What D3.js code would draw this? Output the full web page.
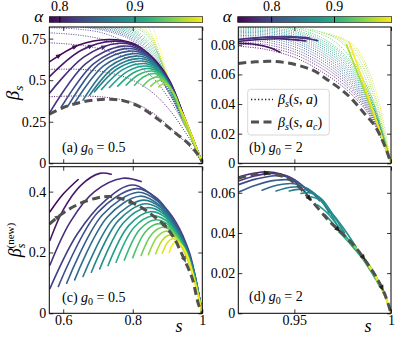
<!DOCTYPE html>
<html><head><meta charset="utf-8">
<script src="https://cdn.jsdelivr.net/npm/d3@7"></script>
<style>body{margin:0;background:#fff}svg{display:block}
svg text{font-family:"Liberation Serif","DejaVu Serif",serif !important;}</style>
</head><body><svg id="chart" width="396" height="337"></svg>
<script>
// ---------- DATA ----------
const cbRangeA = [0.786, 0.99];
const cbRangeB = [0.746, 0.991];
const cbTicks = [0.8, 0.9];
const cbTickLabels = ["0.8", "0.9"];

const xTicksA = [0.6, 0.8, 1.0];
const xTickLabelsA = ["0.6", "0.8", "1"];
const xTicksB = [0.95, 1.0];
const xTickLabelsB = ["0.95", "1"];
const yTicksA = [0, 0.25, 0.5, 0.75];
const yTickLabelsA = ["0", "0.25", "0.5", "0.75"];
const yTicksB = [0, 0.02, 0.04, 0.06, 0.08];
const yTickLabelsB = ["0", "0.02", "0.04", "0.06", "0.08"];
const yTicksC = [0, 0.2, 0.4];
const yTickLabelsC = ["0", "0.2", "0.4"];
const yTicksD = [0, 0.02, 0.04, 0.06];
const yTickLabelsD = ["0", "0.02", "0.04", "0.06"];

// ---- panel (a): g0 = 0.5, beta_s ----
const dashedA = [[0.56,0.295],[0.60,0.335],[0.65,0.367],[0.70,0.383],[0.733,0.385],[0.77,0.378],[0.82,0.34],[0.876,0.26],[0.924,0.18],[0.962,0.115],[0.985,0.06],[1.0,0.01]];

const dottedAlphaA = [0.786,0.795,0.805,0.815,0.825,0.835,0.847,0.859,0.871,0.883,0.895,0.907,0.919,0.931,0.943,0.955,0.967,0.979,0.990];
const dottedA = [
 [[0.56,0.400],[0.65,0.405],[0.73,0.395],[0.80,0.365],[0.86,0.300],[0.91,0.210],[0.95,0.130],[0.98,0.060],[1.0,0.0]],
 [[0.56,0.565],[0.65,0.565],[0.73,0.545],[0.80,0.500],[0.86,0.420],[0.91,0.310],[0.95,0.190],[0.98,0.090],[1.0,0.0]],
 [[0.56,0.725],[0.65,0.710],[0.73,0.675],[0.80,0.610],[0.86,0.510],[0.91,0.370],[0.95,0.225],[0.98,0.100],[1.0,0.0]],
 [[0.56,0.785],[0.65,0.770],[0.73,0.735],[0.80,0.665],[0.86,0.555],[0.91,0.400],[0.95,0.230],[0.98,0.100],[1.0,0.0]],
 [[0.56,0.815],[0.64,0.808],[0.72,0.780],[0.80,0.700],[0.86,0.570],[0.91,0.410],[0.95,0.232],[0.98,0.100],[1.0,0.0]],
 [[0.650,0.82],[0.725,0.795],[0.80,0.735],[0.86,0.580],[0.905,0.420],[0.95,0.230],[0.98,0.100],[1.0,0.0]],
 [[0.668,0.82],[0.734,0.798],[0.80,0.745],[0.86,0.595],[0.905,0.428],[0.95,0.234],[0.98,0.102],[1.0,0.0]],
 [[0.686,0.82],[0.743,0.801],[0.80,0.755],[0.86,0.610],[0.905,0.436],[0.95,0.238],[0.98,0.103],[1.0,0.0]],
 [[0.704,0.82],[0.752,0.804],[0.80,0.765],[0.86,0.625],[0.905,0.444],[0.95,0.242],[0.98,0.104],[1.0,0.0]],
 [[0.721,0.82],[0.7605,0.807],[0.80,0.775],[0.86,0.640],[0.905,0.452],[0.95,0.246],[0.98,0.105],[1.0,0.0]],
 [[0.738,0.82],[0.769,0.810],[0.80,0.785],[0.86,0.655],[0.905,0.460],[0.95,0.250],[0.98,0.106],[1.0,0.0]],
 [[0.754,0.82],[0.777,0.813],[0.80,0.795],[0.86,0.670],[0.905,0.468],[0.95,0.254],[0.98,0.107],[1.0,0.0]],
 [[0.770,0.82],[0.785,0.815],[0.80,0.803],[0.86,0.685],[0.905,0.474],[0.95,0.257],[0.98,0.108],[1.0,0.0]],
 [[0.786,0.82],[0.80,0.812],[0.86,0.700],[0.905,0.480],[0.95,0.260],[0.98,0.109],[1.0,0.0]],
 [[0.801,0.82],[0.83,0.790],[0.86,0.712],[0.905,0.485],[0.95,0.262],[0.98,0.110],[1.0,0.0]],
 [[0.816,0.82],[0.84,0.785],[0.86,0.725],[0.905,0.490],[0.95,0.264],[0.98,0.110],[1.0,0.0]],
 [[0.831,0.82],[0.86,0.740],[0.905,0.494],[0.95,0.266],[0.98,0.111],[1.0,0.0]],
 [[0.845,0.82],[0.86,0.750],[0.905,0.497],[0.95,0.268],[0.98,0.111],[1.0,0.0]],
 [[0.858,0.82],[0.88,0.680],[0.905,0.500],[0.95,0.270],[0.98,0.112],[1.0,0.0]]
];

const solidAlphaA = [0.790,0.800,0.810,0.820,0.830,0.840,0.850,0.860,0.870,0.880,0.890,0.900,0.910,0.920,0.930,0.940,0.950,0.960,0.985];
const solidA = [
 [[0.560,0.610],[0.645,0.712],[0.730,0.745],[0.800,0.722],[0.860,0.630],[0.905,0.500],[0.950,0.270],[0.980,0.110],[1.0,0.0]],
 [[0.560,0.520],[0.652,0.680],[0.745,0.735],[0.810,0.708],[0.865,0.612],[0.905,0.497],[0.950,0.268],[0.980,0.110],[1.0,0.0]],
 [[0.560,0.420],[0.660,0.640],[0.760,0.722],[0.818,0.695],[0.868,0.598],[0.905,0.493],[0.950,0.266],[0.980,0.109],[1.0,0.0]],
 [[0.560,0.300],[0.665,0.600],[0.770,0.705],[0.825,0.680],[0.872,0.583],[0.905,0.489],[0.950,0.265],[0.980,0.109],[1.0,0.0]],
 [[0.595,0.340],[0.688,0.600],[0.780,0.690],[0.832,0.665],[0.875,0.575],[0.905,0.485],[0.950,0.263],[0.980,0.108],[1.0,0.0]],
 [[0.614,0.345],[0.702,0.597],[0.790,0.675],[0.838,0.652],[0.878,0.565],[0.905,0.481],[0.950,0.262],[0.980,0.108],[1.0,0.0]],
 [[0.633,0.364],[0.716,0.586],[0.800,0.660],[0.845,0.638],[0.880,0.557],[0.905,0.477],[0.950,0.260],[0.980,0.107],[1.0,0.0]],
 [[0.657,0.380],[0.732,0.580],[0.808,0.645],[0.850,0.623],[0.883,0.547],[0.905,0.473],[0.950,0.258],[0.980,0.107],[1.0,0.0]],
 [[0.676,0.410],[0.745,0.575],[0.815,0.630],[0.855,0.608],[0.885,0.537],[0.905,0.469],[0.950,0.256],[0.980,0.106],[1.0,0.0]],
 [[0.690,0.430],[0.756,0.569],[0.822,0.615],[0.860,0.593],[0.888,0.527],[0.905,0.465],[0.950,0.254],[0.980,0.106],[1.0,0.0]],
 [[0.710,0.444],[0.770,0.562],[0.830,0.600],[0.865,0.578],[0.890,0.517],[0.905,0.461],[0.950,0.252],[0.980,0.105],[1.0,0.0]],
 [[0.733,0.456],[0.785,0.553],[0.838,0.585],[0.870,0.562],[0.892,0.507],[0.907,0.455],[0.950,0.250],[0.980,0.105],[1.0,0.0]],
 [[0.757,0.464],[0.801,0.543],[0.846,0.570],[0.875,0.548],[0.895,0.497],[0.910,0.448],[0.950,0.248],[0.980,0.104],[1.0,0.0]],
 [[0.781,0.470],[0.818,0.534],[0.855,0.555],[0.880,0.535],[0.898,0.488],[0.912,0.442],[0.950,0.246],[0.980,0.104],[1.0,0.0]],
 [[0.805,0.470],[0.833,0.522],[0.862,0.540],[0.885,0.520],[0.900,0.478],[0.915,0.432],[0.950,0.244],[0.980,0.103],[1.0,0.0]],
 [[0.829,0.464],[0.850,0.505],[0.870,0.520],[0.890,0.502],[0.903,0.467],[0.918,0.420],[0.950,0.242],[0.980,0.103],[1.0,0.0]],
 [[0.852,0.464],[0.866,0.490],[0.880,0.500],[0.895,0.485],[0.907,0.455],[0.920,0.410],[0.950,0.240],[0.980,0.102],[1.0,0.0]],
 [[0.875,0.460],[0.884,0.475],[0.892,0.481],[0.902,0.468],[0.912,0.440],[0.925,0.395],[0.950,0.238],[0.980,0.102],[1.0,0.0]],
 [[0.935,0.335],[0.950,0.270],[0.980,0.112],[1.0,0.0]]
];
const markersA = [[0,0.05],[0,0.13],[1,0.22],[2,0.30]];

// ---- panel (b): g0 = 2, beta_s ----
const dashedB = [[0.921,0.0674],[0.93,0.0685],[0.94,0.0687],[0.95,0.0668],[0.96,0.0625],[0.9675,0.056],[0.975,0.049],[0.98,0.043],[0.986,0.034],[0.992,0.0245],[0.997,0.011],[1.0,0.0]];

const dottedAlphaB = [0.750,0.762,0.774,0.786,0.798,0.810,0.822,0.834,0.846,0.858,0.870,0.882,0.894,0.906,0.918,0.930,0.942,0.954,0.966,0.978];
const dottedB = [
 [[0.921,0.0790],[0.934,0.0772],[0.951,0.0710],[0.9675,0.0590],[0.980,0.0460],[0.990,0.0300],[1.0,0.0]],
 [[0.921,0.0805],[0.934,0.0790],[0.951,0.0730],[0.9675,0.0612],[0.980,0.0478],[0.990,0.0312],[1.0,0.0]],
 [[0.921,0.0818],[0.934,0.0805],[0.951,0.0748],[0.9675,0.0632],[0.980,0.0495],[0.990,0.0322],[1.0,0.0]],
 [[0.921,0.0830],[0.934,0.0820],[0.951,0.0765],[0.9675,0.0650],[0.980,0.0510],[0.990,0.0332],[1.0,0.0]],
 [[0.921,0.0842],[0.934,0.0834],[0.951,0.0782],[0.9675,0.0668],[0.980,0.0525],[0.990,0.0342],[1.0,0.0]],
 [[0.921,0.0852],[0.934,0.0847],[0.951,0.0798],[0.9675,0.0685],[0.980,0.0540],[0.990,0.0352],[1.0,0.0]],
 [[0.921,0.0862],[0.934,0.0858],[0.951,0.0812],[0.9675,0.0702],[0.980,0.0555],[0.990,0.0362],[1.0,0.0]],
 [[0.921,0.0872],[0.934,0.0869],[0.951,0.0826],[0.9675,0.0718],[0.980,0.0570],[0.990,0.0372],[1.0,0.0]],
 [[0.921,0.0881],[0.934,0.0879],[0.951,0.0840],[0.9675,0.0734],[0.980,0.0585],[0.990,0.0382],[1.0,0.0]],
 [[0.921,0.0890],[0.934,0.0889],[0.951,0.0852],[0.9675,0.0750],[0.980,0.0600],[0.990,0.0392],[1.0,0.0]],
 [[0.921,0.0898],[0.934,0.0898],[0.951,0.0864],[0.9675,0.0765],[0.980,0.0615],[0.990,0.0400],[1.0,0.0]],
 [[0.921,0.0906],[0.934,0.0907],[0.951,0.0876],[0.9675,0.0780],[0.980,0.0630],[0.990,0.0408],[1.0,0.0]],
 [[0.921,0.0914],[0.934,0.0916],[0.951,0.0887],[0.9675,0.0794],[0.980,0.0645],[0.990,0.0416],[1.0,0.0]],
 [[0.928,0.0925],[0.940,0.0922],[0.951,0.0898],[0.9675,0.0808],[0.980,0.0660],[0.990,0.0424],[1.0,0.0]],
 [[0.945,0.0922],[0.955,0.0895],[0.9675,0.0822],[0.980,0.0675],[0.990,0.0432],[1.0,0.0]],
 [[0.952,0.0915],[0.960,0.0890],[0.970,0.0830],[0.980,0.0695],[0.990,0.0445],[1.0,0.0]],
 [[0.958,0.0905],[0.965,0.0880],[0.973,0.0830],[0.982,0.0700],[0.990,0.0460],[1.0,0.0]],
 [[0.963,0.0890],[0.969,0.0865],[0.975,0.0825],[0.983,0.0715],[0.991,0.0460],[1.0,0.0]],
 [[0.968,0.0875],[0.973,0.0850],[0.978,0.0810],[0.985,0.0700],[0.992,0.0450],[1.0,0.0]],
 [[0.973,0.0855],[0.977,0.0830],[0.982,0.0780],[0.988,0.0640],[0.994,0.0400],[1.0,0.0]]
];
const solidAlphaB = [0.755,0.765,0.775,0.790,0.960,0.990];
const solidB = [
 [[0.921,0.0810],[0.930,0.0802],[0.937,0.0782],[0.9426,0.0750]],
 [[0.921,0.0822],[0.932,0.0836],[0.944,0.0840],[0.956,0.0826]],
 [[0.921,0.0836],[0.932,0.0848],[0.944,0.0852],[0.956,0.0842],[0.962,0.0828]],
 [[0.926,0.0840],[0.936,0.0852],[0.948,0.0855],[0.958,0.0846]],
 [[0.9770,0.0800],[0.985,0.0530],[0.992,0.0290],[1.0,0.0]],
 [[0.9783,0.0820],[0.985,0.0575],[0.992,0.0305],[1.0,0.0]]
];

// ---- panel (c): g0 = 0.5, beta_s^(new) ----
const dashedC = [[0.56,0.293],[0.60,0.33],[0.65,0.362],[0.70,0.38],[0.733,0.384],[0.78,0.372],[0.829,0.345],[0.865,0.315],[0.895,0.285],[0.92,0.245],[0.938,0.203],[0.955,0.16],[0.971,0.115],[0.989,0.03],[1.0,0.0]];
const solidAlphaC = [0.790,0.801,0.812,0.823,0.834,0.846,0.857,0.868,0.879,0.890,0.901,0.912,0.923,0.934,0.945,0.957,0.968,0.979,0.990];
const solidC = [
 [[0.562,0.334],[0.600,0.392],[0.643,0.440]],
 [[0.562,0.240],[0.600,0.340],[0.650,0.420],[0.705,0.460],[0.738,0.457]],
 [[0.562,0.159],[0.620,0.300],[0.690,0.400],[0.771,0.444],[0.824,0.433]],
 [[0.562,0.082],[0.640,0.260],[0.720,0.370],[0.800,0.422],[0.876,0.367],[0.924,0.300],[0.962,0.203],[0.980,0.120],[1.0,0.0]],
 [[0.586,0.088],[0.698,0.330],[0.810,0.410],[0.870,0.378],[0.910,0.318],[0.950,0.233],[0.975,0.143],[1.0,0.0]],
 [[0.610,0.099],[0.7125,0.323],[0.815,0.398],[0.872,0.368],[0.912,0.310],[0.950,0.230],[0.975,0.141],[1.0,0.0]],
 [[0.633,0.110],[0.7265,0.316],[0.820,0.385],[0.875,0.357],[0.913,0.303],[0.950,0.227],[0.975,0.139],[1.0,0.0]],
 [[0.657,0.121],[0.7435,0.309],[0.830,0.372],[0.880,0.348],[0.914,0.297],[0.950,0.224],[0.975,0.137],[1.0,0.0]],
 [[0.681,0.135],[0.758,0.304],[0.835,0.360],[0.884,0.338],[0.915,0.291],[0.950,0.221],[0.975,0.135],[1.0,0.0]],
 [[0.705,0.146],[0.7725,0.297],[0.840,0.347],[0.888,0.328],[0.916,0.285],[0.950,0.218],[0.975,0.133],[1.0,0.0]],
 [[0.729,0.157],[0.7895,0.290],[0.850,0.334],[0.892,0.317],[0.918,0.279],[0.950,0.215],[0.975,0.131],[1.0,0.0]],
 [[0.752,0.168],[0.8035,0.282],[0.855,0.320],[0.895,0.306],[0.920,0.272],[0.950,0.212],[0.975,0.129],[1.0,0.0]],
 [[0.776,0.175],[0.819,0.274],[0.862,0.307],[0.898,0.295],[0.922,0.265],[0.950,0.209],[0.975,0.127],[1.0,0.0]],
 [[0.800,0.183],[0.835,0.266],[0.870,0.294],[0.902,0.284],[0.924,0.258],[0.950,0.206],[0.975,0.125],[1.0,0.0]],
 [[0.824,0.190],[0.8545,0.260],[0.885,0.283],[0.910,0.272],[0.950,0.203],[0.975,0.123],[1.0,0.0]],
 [[0.845,0.193],[0.870,0.251],[0.895,0.270],[0.915,0.260],[0.950,0.200],[0.975,0.121],[1.0,0.0]],
 [[0.866,0.196],[0.8855,0.241],[0.905,0.257],[0.925,0.248],[0.950,0.197],[0.975,0.119],[1.0,0.0]],
 [[0.885,0.198],[0.900,0.233],[0.915,0.245],[0.935,0.230],[0.955,0.190],[0.975,0.117],[1.0,0.0]],
 [[0.905,0.200],[0.915,0.227],[0.925,0.236],[0.942,0.222],[0.958,0.188],[0.975,0.115],[1.0,0.0]]
];
const dashMarkersC = [0.05, 0.40, 0.58, 0.75];

// ---- panel (d): g0 = 2, beta_s^(new) ----
const dashedD = [[0.921,0.0672],[0.928,0.0690],[0.936,0.0697],[0.943,0.0685],[0.950,0.0650],[0.958,0.0570],[0.968,0.0460],[0.975,0.0395],[0.982,0.0325],[0.988,0.0245],[0.993,0.0170],[0.997,0.009],[1.0,0.0]];
const solidAlphaD = [0.770,0.785,0.800,0.815,0.830,0.840,0.850,0.860,0.870,0.880,0.890,0.900,0.910,0.930,0.950,0.970,0.990];
const solidD = [
 [[0.9215,0.0680],[0.929,0.0697],[0.936,0.0705],[0.943,0.0693],[0.950,0.0657],[0.958,0.0575]],
 [[0.9215,0.0660],[0.930,0.0685],[0.938,0.0697],[0.946,0.0685],[0.952,0.0652]],
 [[0.9215,0.0642],[0.930,0.0668],[0.940,0.0685],[0.948,0.0675],[0.955,0.0630]],
 [[0.9215,0.0605],[0.930,0.0638],[0.940,0.0662],[0.950,0.0660],[0.958,0.0600]],
 [[0.9333,0.0613],[0.941,0.0638],[0.950,0.0645],[0.958,0.0610],[0.963,0.0560]],
 [[0.9405,0.0609],[0.948,0.0628],[0.956,0.0625],[0.963,0.0570],[0.968,0.0500]],
 [[0.9474,0.0609],[0.954,0.0618],[0.960,0.0600],[0.966,0.0540],[0.972,0.0440]],
 [[0.9534,0.0597],[0.958,0.0600],[0.964,0.0570],[0.970,0.0490],[0.976,0.0400]],
 [[0.9586,0.0580],[0.963,0.0565],[0.968,0.0515],[0.975,0.0430],[0.982,0.0330]],
 [[0.962,0.0540],[0.967,0.0500],[0.973,0.0430],[0.980,0.0340],[0.988,0.0240]],
 [[0.966,0.0490],[0.972,0.0425],[0.978,0.0355],[0.985,0.0275],[0.992,0.0170]],
 [[0.970,0.0440],[0.976,0.0380],[0.982,0.0315],[0.988,0.0240],[0.994,0.0135]],
 [[0.973,0.0405],[0.979,0.0350],[0.985,0.0285],[0.991,0.0205],[0.997,0.0080]],
 [[0.977,0.0370],[0.983,0.0310],[0.989,0.0235],[0.995,0.0135],[1.0,0.0]],
 [[0.981,0.0335],[0.986,0.0275],[0.991,0.0205],[0.996,0.0110],[1.0,0.0]],
 [[0.985,0.0280],[0.989,0.0225],[0.993,0.0160],[0.997,0.0085],[1.0,0.0]],
 [[0.988,0.0245],[0.992,0.0185],[0.995,0.0130],[0.998,0.0060],[1.0,0.0]]
];
const dashMarkersD = [0.13, 0.36, 0.55, 0.72, 0.88];

// ---------- DRAW ----------
const svg = d3.select("#chart");
const defs = svg.append("defs");
const ff = sel => sel.style("font-family", '"Liberation Serif", "DejaVu Serif", serif');

function colorFor(range){
  const s = d3.scaleLinear().domain(range).range([0,1]).clamp(true);
  return a => d3.interpolateViridis(s(a));
}
const colA = colorFor(cbRangeA), colB = colorFor(cbRangeB);

function makePanel(id, box, xd, yd){
  const x = d3.scaleLinear().domain(xd).range([box[0], box[1]]);
  const y = d3.scaleLinear().domain(yd).range([box[3], box[2]]);
  defs.append("clipPath").attr("id","clip-"+id).append("rect")
    .attr("x",box[0]).attr("y",box[2]).attr("width",box[1]-box[0]).attr("height",box[3]-box[2]);
  const g = svg.append("g");
  const plot = g.append("g").attr("clip-path",`url(#clip-${id})`);
  const line = d3.line().x(d=>x(d[0])).y(d=>y(d[1])).curve(d3.curveCatmullRom.alpha(0.5));
  return {x,y,g,plot,box,line};
}

function styleAxis(sel){
  sel.attr("font-family",null).attr("font-size",14);
  sel.select(".domain").remove();
  sel.selectAll("line").attr("stroke","#000").attr("stroke-width",0.8);
  sel.selectAll("text").attr("fill","#000").call(ff);
}
function drawAxes(P, xt, xl, yt, yl){
  const {x,y,g,box} = P;
  g.append("g").attr("transform",`translate(${box[0]},0)`)
    .call(d3.axisLeft(y).tickValues(yt).tickFormat((d,i)=>yl[i]).tickSize(-4).tickPadding(3)).call(styleAxis);
  g.append("g").attr("transform",`translate(${box[1]},0)`)
    .call(d3.axisRight(y).tickValues(yt).tickFormat("").tickSize(-4)).call(styleAxis);
  g.append("g").attr("transform",`translate(0,${box[3]})`)
    .call(d3.axisBottom(x).tickValues(xt).tickFormat((d,i)=>xl?xl[i]:"").tickSize(-4).tickPadding(2)).call(styleAxis);
  g.append("g").attr("transform",`translate(0,${box[2]})`)
    .call(d3.axisTop(x).tickValues(xt).tickFormat("").tickSize(-4)).call(styleAxis);
  g.append("rect").attr("x",box[0]).attr("y",box[2]).attr("width",box[1]-box[0]).attr("height",box[3]-box[2])
    .attr("fill","none").attr("stroke","#000").attr("stroke-width",1);
}

function drawLines(P, curves, alphas, col, kind){
  const sel = P.plot.append("g").selectAll("path").data(curves).join("path")
    .attr("d", P.line).attr("fill","none")
    .attr("stroke",(d,i)=>col(alphas[i]));
  if(kind==="dotted") sel.attr("stroke-width",0.9).attr("stroke-dasharray","1,1.4");
  else sel.attr("stroke-width",1.6).attr("stroke-linecap","round");
  return sel;
}
function drawDashed(P, data){
  return P.plot.append("path").datum(data).attr("d",P.line).attr("fill","none")
    .attr("stroke","#505050").attr("stroke-width",3).attr("stroke-dasharray","8,4.5");
}
function addMarkers(P, node, fracs, color, size){
  const L = node.getTotalLength();
  fracs.forEach(f=>{
    const p = node.getPointAtLength(f*L), q = node.getPointAtLength(Math.min(L, f*L+1.5));
    const ang = Math.atan2(q.y-p.y, q.x-p.x)*180/Math.PI;
    P.plot.append("path").attr("d",`M${size},0L${-size*0.8},${size*0.75}L${-size*0.8},${-size*0.75}Z`)
      .attr("transform",`translate(${p.x},${p.y}) rotate(${ang})`).attr("fill",color);
  });
}

function panelLabel(P, tx, ty, letter, val){
  const t = P.g.append("text").attr("x",tx).attr("y",ty).attr("font-size",14).attr("fill","#000").call(ff);
  t.append("tspan").text(`(${letter}) `);
  t.append("tspan").attr("font-style","italic").text("g");
  t.append("tspan").attr("font-size",10).attr("dy",3).text("0");
  t.append("tspan").attr("dy",-3).text(" = " + val);
}

function colorbar(id, x0, x1, range){
  const grad = defs.append("linearGradient").attr("id","grad-"+id);
  d3.range(0,1.0001,0.05).forEach(t=>grad.append("stop").attr("offset",t).attr("stop-color",d3.interpolateViridis(t)));
  const s = d3.scaleLinear().domain(range).range([x0,x1]);
  const y0 = 16.7, h = 5.6;
  svg.append("rect").attr("x",x0).attr("y",y0).attr("width",x1-x0).attr("height",h)
    .attr("fill",`url(#grad-${id})`).attr("stroke","#000").attr("stroke-width",0.6);
  cbTicks.forEach((v,i)=>{
    svg.append("line").attr("x1",s(v)).attr("x2",s(v)).attr("y1",y0).attr("y2",y0+h).attr("stroke","#000").attr("stroke-width",1);
    svg.append("text").attr("x",s(v)).attr("y",11).attr("text-anchor","middle")
      .attr("font-size",14).call(ff).text(cbTickLabels[i]);
  });
  svg.append("text").attr("x",x0-6).attr("y",22).attr("text-anchor","end").call(ff)
    .attr("font-style","italic").attr("font-size",17).text("α");
}

const PA = makePanel("a",[49.3,202.3,27,163.3],[0.56,1],[0,0.82]);
const PB = makePanel("b",[238.3,391,27,163.3],[0.921,1],[0,0.092]);
const PC = makePanel("c",[49.3,202.3,166.7,313.3],[0.56,1],[0,0.482]);
const PD = makePanel("d",[238.3,391,166.7,313.3],[0.921,1],[0,0.073]);

drawLines(PA, dottedA, dottedAlphaA, colA, "dotted");
const sA = drawLines(PA, solidA, solidAlphaA, colA, "solid");
drawDashed(PA, dashedA);
markersA.forEach(([ci,f])=>addMarkers(PA, sA.nodes()[ci], [f], colA(solidAlphaA[ci]), 3.2));

drawLines(PB, dottedB, dottedAlphaB, colB, "dotted");
drawLines(PB, solidB, solidAlphaB, colB, "solid");
drawDashed(PB, dashedB);

drawLines(PC, solidC, solidAlphaC, colA, "solid");
const dC = drawDashed(PC, dashedC);
addMarkers(PC, dC.node(), dashMarkersC, "#505050", 3.5);

drawLines(PD, solidD, solidAlphaD, colB, "solid");
const dD = drawDashed(PD, dashedD);
addMarkers(PD, dD.node(), dashMarkersD, "#222", 3.5);

drawAxes(PA, xTicksA, null, yTicksA, yTickLabelsA);
drawAxes(PB, xTicksB, null, yTicksB, yTickLabelsB);
drawAxes(PC, xTicksA, xTickLabelsA, yTicksC, yTickLabelsC);
drawAxes(PD, xTicksB, xTickLabelsB, yTicksD, yTickLabelsD);

panelLabel(PA, 62, 152, "a", "0.5");
panelLabel(PB, 249, 152, "b", "2");
panelLabel(PC, 62, 302, "c", "0.5");
panelLabel(PD, 249, 301, "d", "2");

colorbar("a", 49.3, 202.7, cbRangeA);
colorbar("b", 237.7, 391.7, cbRangeB);

const yl1 = svg.append("text").attr("transform","translate(19,93) rotate(-90)").attr("text-anchor","middle")
  .call(ff).attr("font-size",19);
yl1.append("tspan").attr("font-style","italic").text("β");
yl1.append("tspan").attr("font-style","italic").attr("font-size",13).attr("dy",4).text("s");

const yl2 = svg.append("text").attr("transform","translate(21,240) rotate(-90)").attr("text-anchor","middle")
  .call(ff).attr("font-size",18);
yl2.append("tspan").attr("font-style","italic").text("β");
yl2.append("tspan").attr("font-style","italic").attr("font-size",12).attr("dy",4).text("s");
yl2.append("tspan").attr("font-size",11).attr("dx",-5).attr("dy",-11).text("(new)");

[[179,332],[368,332]].forEach(([xx,yy])=>{
  svg.append("text").attr("x",xx).attr("y",yy).attr("text-anchor","middle").call(ff)
    .attr("font-style","italic").attr("font-size",18).text("s");
});

const lg = svg.append("g");
lg.append("rect").attr("x",247.7).attr("y",89.3).attr("width",81.6).attr("height",45.7).attr("rx",3)
  .attr("fill","#fff").attr("fill-opacity",0.85).attr("stroke","#cccccc").attr("stroke-width",0.8);
lg.append("line").attr("x1",251).attr("x2",273).attr("y1",99.5).attr("y2",99.5)
  .attr("stroke","#222").attr("stroke-width",1.3).attr("stroke-dasharray","1.3,2.2");
lg.append("line").attr("x1",251).attr("x2",273).attr("y1",122).attr("y2",122)
  .attr("stroke","#505050").attr("stroke-width",3).attr("stroke-dasharray","8,4.5");
function legendText(y, sub){
  const t = lg.append("text").attr("x",278).attr("y",y).call(ff).attr("font-size",14);
  t.append("tspan").attr("font-style","italic").text("β");
  t.append("tspan").attr("font-style","italic").attr("font-size",10).attr("dy",3).text("s");
  t.append("tspan").attr("dy",-3).text("(");
  t.append("tspan").attr("font-style","italic").text("s");
  t.append("tspan").text(", ");
  t.append("tspan").attr("font-style","italic").text("a");
  if(sub){ t.append("tspan").attr("font-style","italic").attr("font-size",10).attr("dy",3).text(sub);
           t.append("tspan").attr("dy",-3).text(")"); }
  else t.append("tspan").text(")");
}
legendText(104, null);
legendText(126.5, "c");
</script>
</body></html>
